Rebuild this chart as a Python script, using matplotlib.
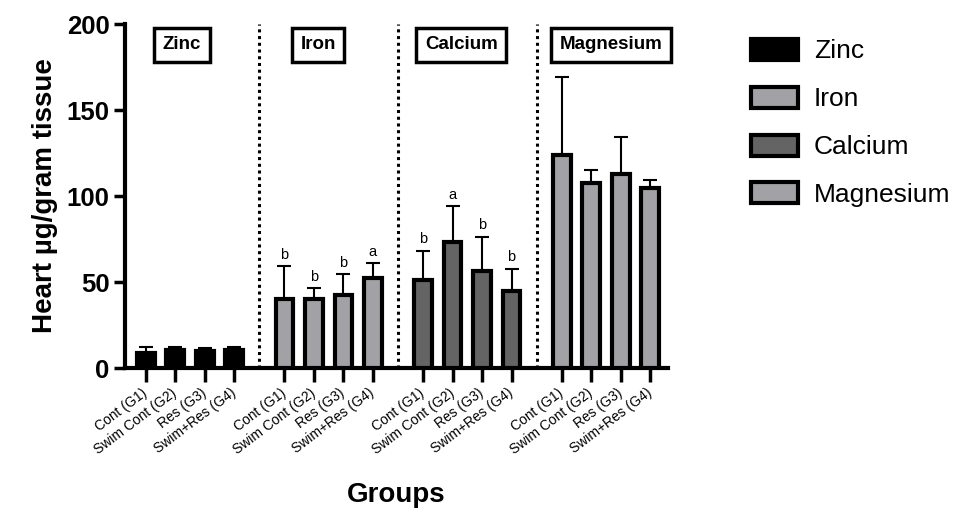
import numpy as np
import matplotlib
matplotlib.use("Agg")
import matplotlib.pyplot as plt
from matplotlib.patches import Patch

plt.rcParams['font.family'] = ['Liberation Sans', 'DejaVu Sans']

# data
minerals = ["Zinc", "Iron", "Calcium", "Magnesium"]
groups = ["Cont (G1)", "Swim Cont (G2)", "Res (G3)", "Swim+Res (G4)"]
zinc = [9.0, 10.5, 9.9, 10.2]
zinc_sd = [3.0, 1.9, 1.9, 2.2]
iron = [40.1, 40.1, 42.4, 52.1]
iron_sd = [19.2, 6.2, 12.3, 8.7]
calcium = [51.2, 73.4, 56.4, 44.8]
calcium_sd = [17.0, 20.8, 20.0, 13.0]
magnesium = [123.8, 107.7, 112.8, 104.5]
magnesium_sd = [45.6, 7.4, 21.7, 4.8]
iron_letters = ["b", "b", "b", "a"]
calcium_letters = ["b", "a", "b", "b"]

values = [zinc, iron, calcium, magnesium]
errors = [zinc_sd, iron_sd, calcium_sd, magnesium_sd]
letters = [None, iron_letters, calcium_letters, None]
colors = ["black", "#a2a2a6", "#646464", "#a2a2a6"]

step = 4.7
box_shift = [-0.27, -0.36, -0.21, 0.17]  # title boxes sit a bit off-centre

fig = plt.figure(figsize=(9.65, 5.14), dpi=100)
ax = fig.add_axes([125 / 965, 1 - 368 / 514, (668 - 125) / 965, (368 - 24) / 514])

xticks, xlabels = [], []
for g in range(4):
    x = np.arange(4) + g * step
    ax.bar(x, values[g], width=0.6, color=colors[g], edgecolor="black",
           linewidth=3, zorder=3)
    ax.errorbar(x, values[g], yerr=[np.zeros(4), errors[g]], fmt="none",
                ecolor="black", elinewidth=1.5, capsize=5, capthick=1.5, zorder=2)
    if letters[g]:
        for xi, v, e, l in zip(x, values[g], errors[g], letters[g]):
            ax.text(xi, v + e + 2.5, l, ha="center", va="bottom", fontsize=10.5)
    ax.text(1.5 + g * step + box_shift[g], 188, minerals[g], ha="center", va="center",
            fontsize=13.5, fontweight="bold",
            bbox=dict(boxstyle="square,pad=0.45", facecolor="white",
                      edgecolor="black", linewidth=2.5))
    if g > 0:
        ax.vlines(g * step - 0.85, 0, 200, colors="black",
                  linestyles=(0, (1, 1.2)), linewidth=2.2)
    xticks += list(x)
    xlabels += groups

ax.set_xlim(-0.7, 17.7)
ax.set_ylim(0, 200)
ax.set_yticks([0, 50, 100, 150, 200])
ax.set_xticks(xticks)
ax.set_xticklabels(xlabels, rotation=37, ha="right", va="center",
                   rotation_mode="anchor", fontsize=10)
for lab in ax.get_yticklabels():
    lab.set_fontweight("bold")
    lab.set_fontsize(18.5)
ax.tick_params(axis="y", width=2.5, length=8, pad=3)
ax.tick_params(axis="x", width=2.5, length=10, pad=7)
for s in ["top", "right"]:
    ax.spines[s].set_visible(False)
for s in ["left", "bottom"]:
    ax.spines[s].set_linewidth(3)

ax.set_ylabel("Heart µg/gram tissue", fontsize=20, fontweight="bold", labelpad=6)
ax.set_xlabel("Groups", fontsize=20, fontweight="bold", labelpad=18)

handles = [Patch(facecolor=c, edgecolor="black", linewidth=3) for c in colors]
fig.legend(handles, minerals, loc="upper left", bbox_to_anchor=(727 / 965, 1 - 15 / 514),
           frameon=False, fontsize=19, handlelength=1.8, handleheight=0.85,
           labelspacing=0.88, handletextpad=0.6)

fig.savefig("out.png", dpi=100)
